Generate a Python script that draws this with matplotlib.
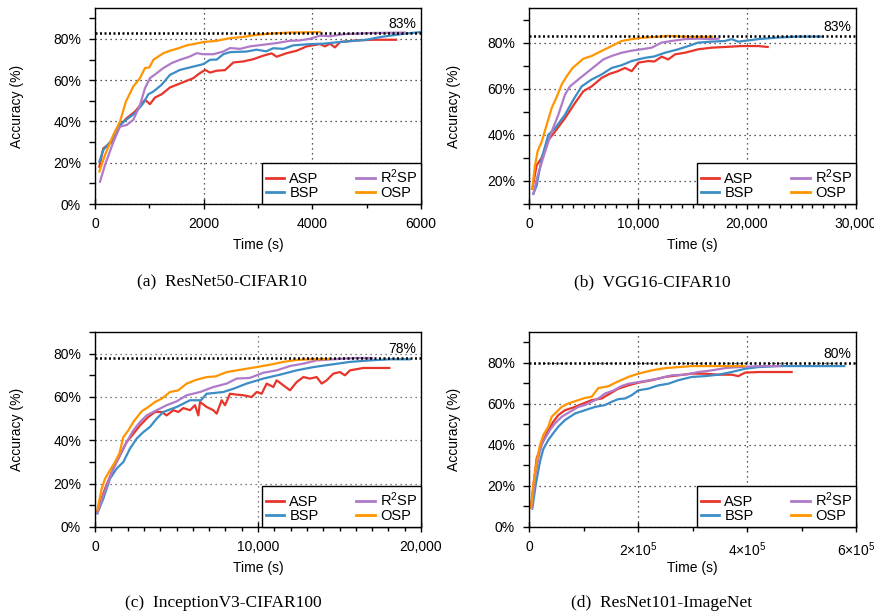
import matplotlib
matplotlib.use('Agg')
import matplotlib.pyplot as plt
from matplotlib.ticker import MultipleLocator, FuncFormatter

plt.rcParams['font.family'] = ['Liberation Sans', 'DejaVu Sans']
plt.rcParams['mathtext.fontset'] = 'custom'
plt.rcParams['mathtext.rm'] = 'Liberation Sans'
plt.rcParams['mathtext.it'] = 'Liberation Sans:italic'
plt.rcParams['mathtext.bf'] = 'Liberation Sans:bold'

series_names = ['ASP', 'BSP', 'R$^2$SP', 'OSP']
series_colors = ['#e8352b', '#3c8dc6', '#b07ac8', '#ff9500']

# ---------------- (a) ResNet50-CIFAR10 ----------------
a_asp_t = [80, 153, 337, 460, 583, 736, 920, 1012, 1104, 1227, 1380, 1534, 1687, 1810, 1902, 2025, 2117, 2240, 2393,
           2546, 2730, 2914, 3098, 3251, 3343, 3528, 3712, 3896, 4141, 4233, 4325, 4417, 4509, 4816, 5122, 5540]
a_asp = [18.1, 27, 30.5, 38.3, 41.6, 44.8, 50.5, 48.4, 51.6, 53.2, 56.5, 58.1, 59.7, 61, 62.9, 65, 63.7, 64.6, 64.9,
         68.6, 69.1, 70.2, 71.9, 73, 71.4, 73.1, 74.3, 76.4, 77.5, 76.4, 77.7, 75.9, 78.5, 79.3, 79.6, 79.6]
a_bsp_t = [80, 153, 337, 460, 583, 736, 890, 982, 1074, 1227, 1380, 1564, 1748, 1994, 2117, 2240, 2362, 2485, 2791,
           2975, 3150, 3282, 3466, 3650, 3957, 4202, 4500, 5000, 5245, 5675, 5982]
a_bsp = [20.5, 26.2, 31.9, 38.3, 41, 44, 48.9, 53.2, 54.5, 57.8, 62.6, 65, 66.2, 67.8, 69.9, 70, 72.6, 73.6, 73.9,
         74.8, 74, 75.5, 75.2, 76.9, 77.5, 77.7, 78.5, 79.6, 80.9, 82.5, 83.3]
a_r2sp_t = [92, 184, 337, 460, 583, 705, 828, 920, 1012, 1135, 1258, 1411, 1564, 1748, 1871, 1994, 2178, 2362, 2485,
            2669, 2853, 3098, 3343, 3589, 3780, 3957, 4141, 4330, 4570, 5122, 5700]
a_r2sp = [10.8, 18.9, 30, 37.5, 38.3, 40.8, 48, 56.1, 61, 63.4, 65.9, 68.3, 69.9, 71.5, 73.1, 72.6, 72.6, 73.9, 75.6,
          75.2, 76.4, 77.2, 78, 79.1, 79.3, 80.1, 81.6, 81.3, 82.3, 82.9, 83.1]
a_osp_t = [80, 184, 337, 460, 570, 705, 828, 920, 1000, 1074, 1166, 1258, 1380, 1503, 1687, 1810, 1994, 2240, 2485,
           2730, 2975, 3282, 3589, 4141]
a_osp = [15.7, 23.8, 33.5, 40, 49.7, 57, 61, 65.9, 66.2, 69.9, 71.5, 73.1, 74.3, 75.2, 76.9, 77.5, 78.5, 79.1, 80.4,
         81, 82, 82.7, 83.1, 83.3]

# ---------------- (b) VGG16-CIFAR10 ----------------
b_asp_t = [306, 700, 1162, 1774, 2385, 3300, 4220, 4985, 5750, 6670, 7430, 8100, 8807, 9420, 10030, 10950, 11500,
           12170, 12780, 13400, 14310, 15535, 16760, 17980, 19500, 21040, 21900]
b_asp = [16.6, 26.8, 30, 37.7, 41.4, 47.2, 53.8, 58.9, 61, 64.7, 66.5, 67.5, 69, 67.6, 71.3, 72, 71.8,
         73.9, 72.7, 74.9, 75.6, 77.1, 77.8, 78.1, 78.5, 78.5, 78.1]
b_bsp_t = [400, 700, 1162, 1774, 2385, 3300, 4067, 4830, 5750, 6670, 7584, 8500, 9420, 10640, 11500, 12476, 13700,
           14620, 15535, 16760, 17980, 18590, 19200, 21040, 22870, 24700, 26800]
b_bsp = [14.4, 18, 29.7, 40, 42.8, 48.7, 55.2, 61, 64, 66.2, 69, 70.2, 72, 73.4, 74, 75.6, 77.1,
         78.5, 80, 80.4, 80.7, 81.5, 80.4, 81.5, 82.2, 82.6, 82.6]
b_r2sp_t = [397, 800, 1468, 2080, 2690, 3300, 3760, 4526, 5290, 6055, 6820, 7584, 8500, 9420, 10336, 11254, 12170,
            13088, 14310, 15535, 16760, 17400]
b_r2sp = [14.4, 22.4, 32.6, 41.4, 48.7, 57.4, 61, 64, 66.9, 69.8, 72.7, 74.2, 75.6, 76.5, 77.1, 77.8, 80,
          80.7, 81.5, 81.7, 81.5, 81.7]
b_osp_t = [306, 550, 800, 1162, 1620, 2080, 2500, 3000, 3455, 4000, 4985, 5750, 6670, 7584, 8500, 9420, 10640, 11866,
           12780, 14000, 15535, 16800]
b_osp = [16.6, 26.8, 33, 37, 44.3, 51.6, 56, 61.8, 65.4, 69, 73, 74.2, 76.4, 78.5, 80.7, 81.5, 82.2, 82.5,
         82.9, 82.6, 82.5, 82.5]

# ---------------- (c) InceptionV3-CIFAR100 ----------------
c_asp_t = [143, 614, 1125, 1534, 1943, 2352, 2761, 3272, 3681, 4090, 4397, 4806, 5113, 5420, 5828, 6135, 6340, 6442,
           6851, 7260, 7464, 7771, 7978, 8283, 8691, 9100, 9611, 9918, 10225, 10531, 10940, 11145, 11554, 11963,
           12372, 12781, 13190, 13600, 13906, 14213, 14622, 15030, 15337, 15644, 16463, 17077, 18058]
c_asp = [7.2, 17.7, 27, 33.1, 39.2, 43, 46.9, 50.8, 53.1, 53.1, 51.5, 53.9, 53.1, 54.9, 53.9, 56.2, 51.5, 57.7,
         55.4, 53.9, 52.3, 58.5, 56.2, 61.5, 61.1, 60.8, 60, 62.3, 61.5, 66.2, 64.6, 67.7, 65.4, 63.1,
         66.9, 69.2, 68.5, 69.2, 66.2, 67.7, 70.8, 71.5, 70, 72.3, 73.4, 73.4, 73.4]
c_bsp_t = [143, 511, 920, 1329, 1738, 2147, 2556, 2965, 3374, 3783, 4192, 5010, 5828, 6500, 6851, 7873, 8487, 9305,
           10327, 11350, 12372, 13395, 14417, 15644, 16872, 18100, 19326]
c_bsp = [6.3, 13.1, 22.3, 27, 30, 36.2, 40.8, 43.8, 46.2, 50, 53.1, 55.4, 58.5, 58.5, 61.5, 62.3, 63.8, 66.2,
         68.5, 70.3, 72.3, 73.8, 74.9, 76.2, 76.9, 77.4, 77.4]
c_r2sp_t = [143, 511, 1125, 1534, 1943, 2352, 2761, 3170, 3783, 4397, 5010, 5624, 6442, 7260, 8078, 8691, 9500,
            10327, 11145, 11963, 12781, 13600, 15235, 16053, 17000]
c_r2sp = [6.3, 14.6, 27, 33.1, 39.2, 44.6, 48.5, 51.5, 53.9, 56.2, 58, 60.8, 62.3, 64.6, 66.2, 68.5, 68.8,
          71.2, 72.3, 74.3, 75.4, 76.9, 77.7, 78, 78]
c_osp_t = [143, 409, 614, 920, 1227, 1500, 1738, 2045, 2352, 2863, 3272, 3681, 4090, 4601, 5113, 5624, 6237, 6851,
           7400, 8078, 9100, 9918, 10736, 11554, 12372, 13190, 14300]
c_osp = [7.7, 17.7, 22.3, 26.2, 30, 34, 41.5, 44.6, 48.5, 53.4, 55.4, 57.7, 59.2, 62.3, 63.1, 66.2, 68, 69.2,
         69.5, 71.5, 72.8, 73.8, 74.9, 76.2, 77.1, 77.4, 77.5]

# ---------------- (d) ResNet101-ImageNet ----------------
d_asp_t = [3670, 7950, 14067, 20180, 26300, 35470, 44650, 53800, 66050, 84400, 99700, 115000, 133300, 148600, 163900,
           182250, 200600, 225000, 249500, 274000, 298500, 322900, 347400, 371900, 384100, 396300, 420800, 457500,
           481900]
d_asp = [9.3, 20, 33.5, 38, 42.4, 47, 51.3, 54.5, 56.9, 58.5, 60.2, 61.8, 62.6, 65, 67.4,
         69, 70.3, 71.5, 73.1, 73.9, 74.7, 74.7, 74.2, 74.2, 73.5, 75.2, 75.5, 75.5, 75.5]
d_bsp_t = [6100, 12000, 20180, 26300, 35470, 44000, 53800, 66050, 84400, 102750, 121100, 139400, 151700, 163900,
           176100, 188400, 200600, 219000, 237300, 255600, 274000, 298500, 322900, 347400, 371900, 396300, 420800,
           457500, 518600, 578500]
d_bsp = [9, 20, 31.9, 38, 42.4, 45.5, 48.9, 52.1, 55.3, 56.9, 58.5, 59.4, 61, 62.3,
         62.6, 64.2, 66.6, 67.4, 69, 69.8, 71.5, 73.1, 73.5, 74.2, 75.5, 77.1, 77.9,
         78.4, 78.4, 78.4]
d_r2sp_t = [5000, 11000, 17100, 23200, 29360, 38500, 47700, 59940, 75200, 90500, 102750, 115000, 127200, 139400,
            155000, 170000, 182250, 210000, 237300, 261800, 286200, 310700, 335200, 359600, 384100, 420800, 460000]
d_r2sp = [9.3, 23.9, 33.5, 40, 43.2, 47.3, 50.5, 53.7, 56.1, 58.5, 59.4, 61, 62.6, 65,
          66.5, 68.7, 69.8, 71, 72.3, 73.9, 74.2, 75.5, 76.3, 77.4, 77.9, 78.4, 78.4]
d_osp_t = [3670, 7950, 14067, 20180, 26300, 35470, 41600, 50760, 59940, 72170, 90500, 102750, 115000, 127200, 145000,
           160850, 182250, 200600, 225000, 249500, 274000, 298500, 335000, 395000]
d_osp = [9.3, 20.6, 31.9, 40, 44.8, 48.9, 53.7, 56.1, 58.5, 60.2, 61.8, 62.9, 63.4, 67.7, 68.5,
         70.6, 73.1, 74.7, 76.3, 77.4, 77.9, 78.4, 78.4, 78.4]

captions = ['(a)  ResNet50-CIFAR10', '(b)  VGG16-CIFAR10', '(c)  InceptionV3-CIFAR100', '(d)  ResNet101-ImageNet']
targets = [83, 83, 78, 80]
target_labels = ['83%', '83%', '78%', '80%']

W, H = 874.0, 615.0


def fmt_plain(v, pos):
    return '%d' % v


def fmt_comma(v, pos):
    return '{:,}'.format(int(v))


def fmt_sci(v, pos):
    if v == 0:
        return '0'
    return r'$%d{\times}10^5$' % int(round(v / 1e5))


panels = [
    dict(rect=(95, 8, 421, 204), xmax=6000, xmaj=2000, xmin=1000, ylo=0, yhi=95, fmt=fmt_plain, grid='#222222',
         data=[(a_asp_t, a_asp), (a_bsp_t, a_bsp), (a_r2sp_t, a_r2sp), (a_osp_t, a_osp)], cap=(222, 282), lab=24),
    dict(rect=(529, 8, 856, 204), xmax=30000, xmaj=10000, xmin=1000, ylo=10, yhi=95, fmt=fmt_comma, grid='#222222',
         data=[(b_asp_t, b_asp), (b_bsp_t, b_bsp), (b_r2sp_t, b_r2sp), (b_osp_t, b_osp)], cap=(652, 282), lab=461),
    dict(rect=(95, 332, 421, 527), xmax=20000, xmaj=10000, xmin=1000, ylo=0, yhi=90, fmt=fmt_comma, grid='#555555',
         data=[(c_asp_t, c_asp), (c_bsp_t, c_bsp), (c_r2sp_t, c_r2sp), (c_osp_t, c_osp)], cap=(223, 603), lab=24),
    dict(rect=(529, 332, 856, 527), xmax=600000, xmaj=200000, xmin=100000, ylo=0, yhi=95, fmt=fmt_sci, grid='#222222',
         data=[(d_asp_t, d_asp), (d_bsp_t, d_bsp), (d_r2sp_t, d_r2sp), (d_osp_t, d_osp)], cap=(662, 603), lab=461),
]

fig = plt.figure(figsize=(W / 100, H / 100), dpi=100)

for i, p in enumerate(panels):
    l, t, r, b = p['rect']
    ax = fig.add_axes([l / W, 1 - b / H, (r - l) / W, (b - t) / H])
    for (xs, ys), name, col in zip(p['data'], series_names, series_colors):
        ax.plot(xs, ys, color=col, lw=1.6, label=name, zorder=2)
    ax.axhline(targets[i], color='black', lw=1.8, ls=(0, (0.8, 1.0)), zorder=3)
    ax.annotate(target_labels[i], xy=(0.985, targets[i]), xycoords=('axes fraction', 'data'),
                xytext=(0, 1.5), textcoords='offset points', ha='right', va='bottom', fontsize=10)
    ax.set_xlim(0, p['xmax'])
    ax.set_ylim(p['ylo'], p['yhi'])
    ax.xaxis.set_major_locator(MultipleLocator(p['xmaj']))
    ax.xaxis.set_minor_locator(MultipleLocator(p['xmin']))
    ax.xaxis.set_major_formatter(FuncFormatter(p['fmt']))
    ax.yaxis.set_major_locator(MultipleLocator(20))
    ax.yaxis.set_minor_locator(MultipleLocator(10))
    ax.yaxis.set_major_formatter(FuncFormatter(lambda v, pos: '%d%%' % v))
    ax.grid(True, which='major', color=p['grid'], lw=0.9, ls=(0, (1, 3)))
    ax.tick_params(axis='x', which='major', direction='inout', length=7, width=1, pad=6, labelsize=10)
    ax.tick_params(axis='x', which='minor', direction='out', length=3, width=1)
    ax.tick_params(axis='y', which='major', direction='out', length=4, width=1, pad=6, labelsize=10)
    ax.tick_params(axis='y', which='minor', direction='out', length=4, width=1)
    for s in ax.spines.values():
        s.set_linewidth(1.0)
        s.set_color('black')
    ax.set_xlabel('Time (s)', fontsize=10)
    ax.set_ylabel('Accuracy (%)', fontsize=10)
    ax.xaxis.set_label_coords(0.5, -0.175)
    ax.yaxis.set_label_coords((p['lab'] - l) / (r - l), 0.5)
    leg = ax.legend(ncol=2, loc='lower right', borderaxespad=0, frameon=True, fancybox=False,
                    edgecolor='black', framealpha=1, handlelength=1.25, handletextpad=0.35,
                    columnspacing=2.6, labelspacing=0.05, borderpad=0.25, fontsize=10.5)
    leg.get_frame().set_linewidth(1.0)
    for ln in leg.get_lines():
        ln.set_linewidth(2.0)
    leg.set_zorder(5)
    cx, cy = p['cap']
    fig.text(cx / W, 1 - cy / H, captions[i], ha='center', va='center',
             family=['Liberation Serif', 'DejaVu Serif'], fontsize=12.5)

fig.savefig('out.png', dpi=100)
